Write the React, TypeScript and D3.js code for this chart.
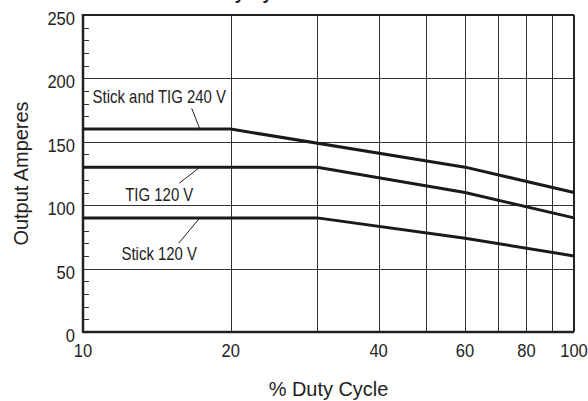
import * as d3 from "d3"
import React from "react"

// duty cycle (%) breakpoints and rated output (A) per process
const stick240Duty = [10, 20, 60, 100]
const stick240Amps = [160, 160, 130, 110]
const tig120Duty = [10, 30, 60, 100]
const tig120Amps = [130, 130, 110, 90]
const stick120Duty = [10, 30, 60, 100]
const stick120Amps = [90, 90, 74, 60]

const xTicks = [10, 20, 40, 60, 80, 100]
const xGrid = [20, 30, 40, 50, 60, 70, 80, 90]
const yTicks = [0, 50, 100, 150, 200, 250]
const yGrid = [50, 100, 150, 200]
const yMinor = d3.range(10, 250, 10)

// label text, label anchor (duty, amps), leader from -> to (duty, amps)
const labelNames = ["Stick and TIG 240 V", "TIG 120 V", "Stick 120 V"]
const labelAt = [[14.3, 180.6], [14.3, 103.3], [14.3, 56.8]]
const leaderFrom = [[16.65, 176.4], [15.7, 117.3], [15.66, 70]]
const leaderTo = [[17.3, 160], [17.3, 130], [17.3, 90]]

const W = 588
const H = 401
const margin = { top: 15, right: 14, bottom: 69, left: 83 }
const FONT = "'Liberation Sans', Arial, sans-serif"
const INK = "#222"

// condensed text: squeeze horizontally around the anchor point
const T = ({ x, y, size, sx = 0.85, anchor = "middle", rotate = 0, weight = "normal", children }: any) => (
  <text transform={`translate(${x},${y}) rotate(${rotate}) scale(${sx},1)`} textAnchor={anchor}
    fontSize={size} fontWeight={weight} fill={INK}>{children}</text>
)

const App = () => {
  const x = d3.scaleLog().domain([10, 100]).range([margin.left, W - margin.right])
  const y = d3.scaleLinear().domain([0, 250]).range([H - margin.bottom, margin.top])

  const series = [
    d3.zip(stick240Duty, stick240Amps),
    d3.zip(tig120Duty, tig120Amps),
    d3.zip(stick120Duty, stick120Amps),
  ]
  const line = d3.line<number[]>().x(d => x(d[0])).y(d => y(d[1]))

  const x0 = x(10), x1 = x(100), y0 = y(0), y1 = y(250)
  const px = (v: number) => Math.round(v) + 0.5

  return (
    <svg width={W} height={H} style={{ position: "absolute", left: 0, top: 0, background: "#fff" }}
      fontFamily={FONT}>
      <T x={x(22)} y={-1} size={21} weight="bold">Duty Cycle</T>

      {/* grid */}
      <g stroke="#333" strokeWidth={1}>
        {xGrid.map(v => <line key={"gx" + v} x1={px(x(v))} x2={px(x(v))} y1={y1} y2={y0} />)}
        {yGrid.map(v => <line key={"gy" + v} x1={x0} x2={x1} y1={px(y(v))} y2={px(y(v))} />)}
        {yMinor.filter(v => v % 50 !== 0).map(v =>
          <line key={"mt" + v} x1={x0} x2={x0 + 6} y1={px(y(v))} y2={px(y(v))} />)}
      </g>

      {/* frame */}
      <g stroke={INK} fill="none">
        <line x1={x0} x2={x1} y1={y1} y2={y1} strokeWidth={2} />
        <line x1={x1} x2={x1} y1={y1} y2={y0} strokeWidth={2} />
        <line x1={x0} x2={x0} y1={y1 - 1} y2={y0 + 1} strokeWidth={2.5} />
        <line x1={x0} x2={x1} y1={y0} y2={y0} strokeWidth={2.5} />
      </g>

      {/* data */}
      <g fill="none" stroke="#1a1a1a" strokeWidth={3}>
        {series.map((s, i) => <path key={i} d={line(s) || ""} />)}
      </g>

      {/* annotations */}
      {labelNames.map((t, i) => (
        <g key={t}>
          <T x={x(labelAt[i][0])} y={y(labelAt[i][1])} size={18} sx={0.83}>{t}</T>
          <line x1={x(leaderFrom[i][0])} y1={y(leaderFrom[i][1])} x2={x(leaderTo[i][0])} y2={y(leaderTo[i][1])}
            stroke={INK} strokeWidth={1} />
        </g>
      ))}

      {/* tick labels */}
      {yTicks.map(v => <T key={"yt" + v} x={x0 - 8} y={y(v) + 10} size={18} sx={0.92} anchor="end">{v}</T>)}
      {xTicks.map(v => <T key={"xt" + v} x={x(v)} y={y0 + 25} size={18} sx={0.92}>{v}</T>)}

      <T x={27.5} y={(y0 + y1) / 2} size={21} sx={0.95} rotate={-90}>Output Amperes</T>
      <T x={(x0 + x1) / 2} y={396} size={21} sx={0.95}>% Duty Cycle</T>
    </svg>
  )
}

export default App
